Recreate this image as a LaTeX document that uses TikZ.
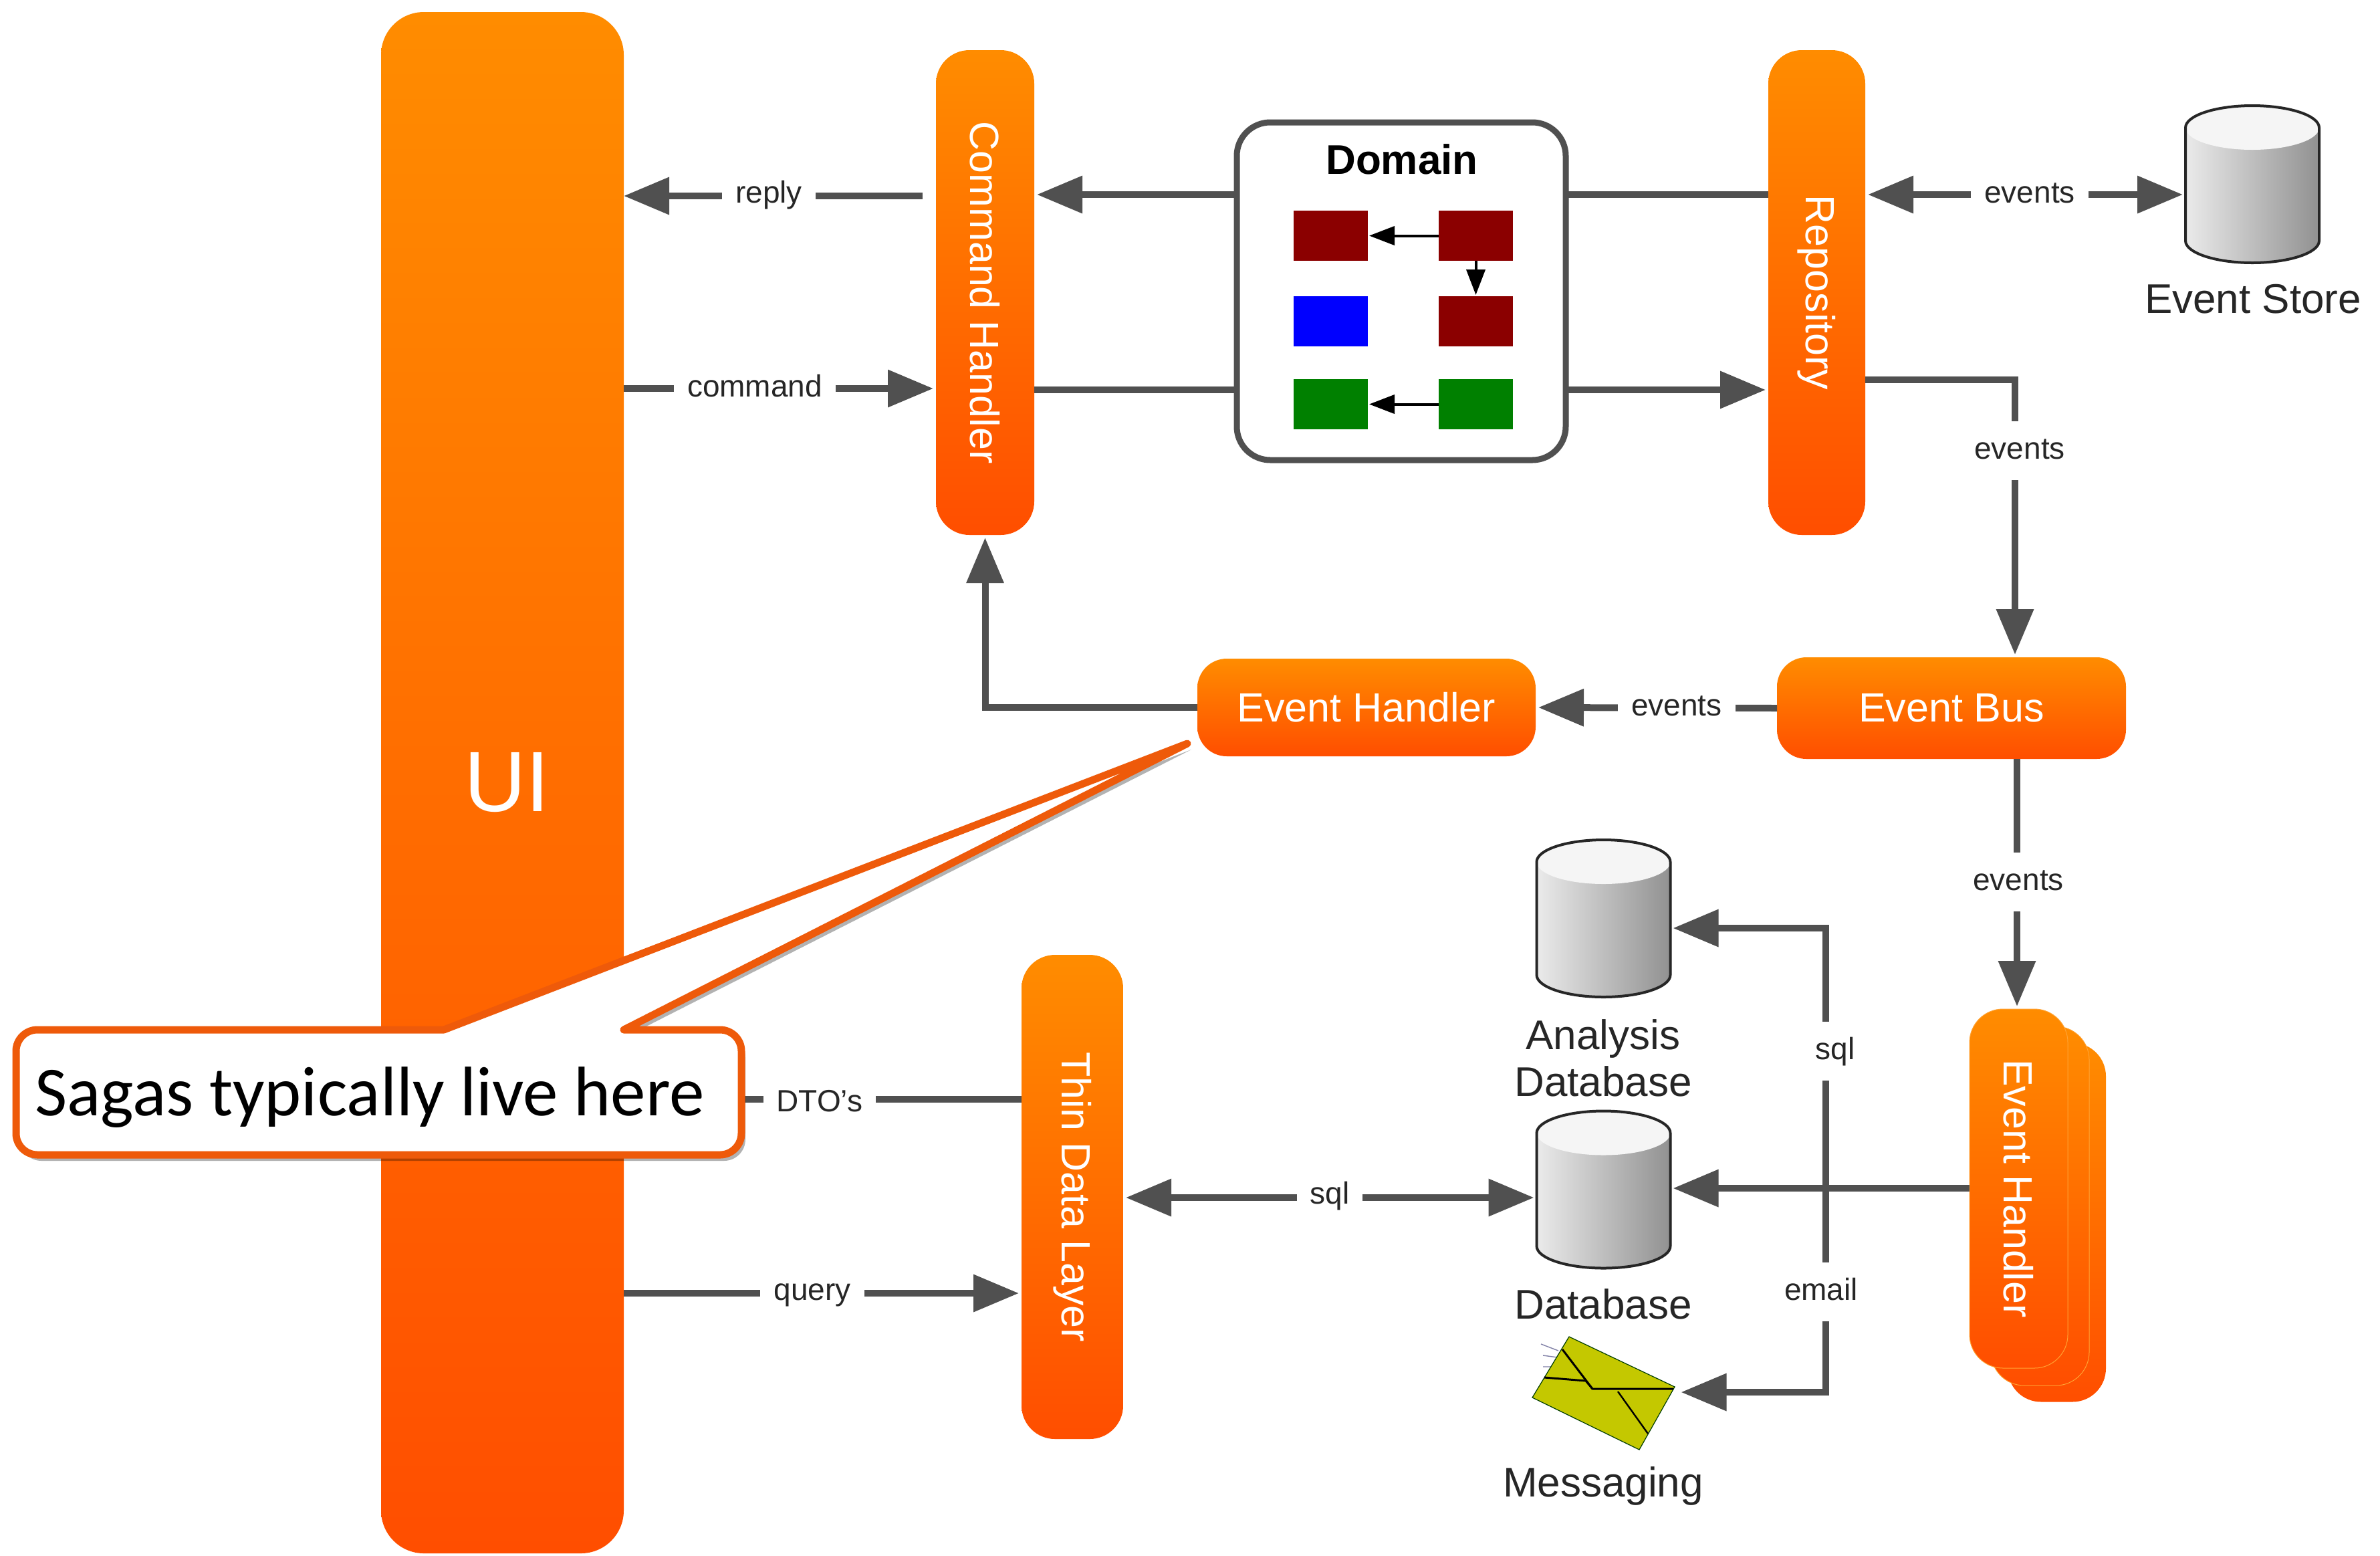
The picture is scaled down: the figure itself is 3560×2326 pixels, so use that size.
\documentclass[tikz,border=0pt]{standalone}
\usepackage{graphicx}
\usepackage{fontspec}
\setmainfont{Liberation Sans}
\newfontfamily\calloutfont{Carlito}
\usetikzlibrary{arrows.meta}
\definecolor{ctop}{HTML}{FF8C00}
\definecolor{cbot}{HTML}{FF4E00}
\definecolor{conn}{HTML}{505050}
\definecolor{ink}{HTML}{262626}
\definecolor{calloutline}{HTML}{EE5A0A}
\newcommand{\cylinderdb}[3]{%
  \begin{scope}[shift={(#2,#3)}]
    \node[inner sep=0pt,outer sep=0pt,minimum width=100pt,minimum height=117.5pt] (#1) at (0,0) {};
    \shade[left color=white!92!black,right color=black!43!white]
      (-100,-84.5) .. controls (-100,-102.7) and (-55,-117.5) .. (0,-117.5)
      .. controls (55,-117.5) and (100,-102.7) .. (100,-84.5)
      -- (100,84.5) .. controls (100,102.7) and (55,117.5) .. (0,117.5)
      .. controls (-55,117.5) and (-100,102.7) .. (-100,84.5) -- cycle;
    \fill[white!96!black]
      (-100,-84.5) .. controls (-100,-102.7) and (-55,-117.5) .. (0,-117.5)
      .. controls (55,-117.5) and (100,-102.7) .. (100,-84.5)
      .. controls (100,-66.3) and (55,-51.5) .. (0,-51.5)
      .. controls (-55,-51.5) and (-100,-66.3) .. (-100,-84.5) -- cycle;
    \draw[line width=2pt,ink]
      (-100,-84.5) .. controls (-100,-102.7) and (-55,-117.5) .. (0,-117.5)
      .. controls (55,-117.5) and (100,-102.7) .. (100,-84.5)
      -- (100,84.5) .. controls (100,102.7) and (55,117.5) .. (0,117.5)
      .. controls (-55,117.5) and (-100,102.7) .. (-100,84.5) -- cycle;
  \end{scope}}
\tikzset{
  bar/.style={inner sep=0pt,outer sep=0pt,top color=ctop,bottom color=cbot,text=white,
    font=\fontsize{30.5}{36}\selectfont},
  sq/.style={inner sep=0pt,outer sep=0pt,minimum width=55.5pt,minimum height=37.5pt},
  flow/.style={conn,line width=5pt,shorten >=2pt,-{Triangle[length=34pt,width=27pt]}},
  flowboth/.style={conn,line width=5pt,shorten >=2pt,shorten <=2pt,{Triangle[length=34pt,width=27pt]}-{Triangle[length=34pt,width=27pt]}},
  plainline/.style={conn,line width=5pt},
  small/.style={black,line width=2pt,shorten >=1pt,-{Triangle[length=19pt,width=14pt]}},
  lbl/.style={fill=white,inner xsep=10pt,inner ysep=16pt,text height=12pt,text depth=0pt,text=ink,font=\fontsize{23}{28}\selectfont},
  captext/.style={text=ink,inner sep=0pt,font=\fontsize{31}{35}\selectfont,align=center},
}
\begin{document}
\begin{tikzpicture}[x=0.5pt,y=-0.5pt]
\fill[white] (0,0) rectangle (3560,2326);
\useasboundingbox (0,0) rectangle (3560,2326);
% main bars
\node[bar,rounded corners=32pt,minimum width=181.5pt,minimum height=1152.5pt,font=\fontsize{64}{70}\selectfont] (ui) at (751.5,1170.5) {\hspace*{7pt}UI};
\node[bar,rounded corners=25pt,minimum width=73.5pt,minimum height=362.5pt] (cmd) at (1473.5,437.5) {\rotatebox{-90}{Command Handler}};
\node[bar,rounded corners=25pt,minimum width=72.5pt,minimum height=362.5pt] (repo) at (2717.5,437.5) {\rotatebox{-90}{Repository}};
\node[bar,rounded corners=22pt,minimum width=253pt,minimum height=73pt] (eh) at (2044,1058) {Event Handler};
\node[bar,rounded corners=22pt,minimum width=261pt,minimum height=76pt] (bus) at (2919,1059) {Event Bus};
\node[bar,rounded corners=25pt,minimum width=76pt,minimum height=362pt] (tdl) at (1604,1790) {\rotatebox{-90}{Thin Data Layer}};
% stacked event handler
\node[bar,rounded corners=25pt,minimum width=73.5pt,minimum height=268.5pt] (ehc) at (3076.5,1828) {};
\node[bar,rounded corners=25pt,minimum width=73.5pt,minimum height=268.5pt,draw=ctop!80!white,line width=.5pt] (ehb) at (3051.5,1803.5) {};
\node[bar,rounded corners=25pt,minimum width=73.5pt,minimum height=268.5pt,draw=ctop!80!white,line width=.5pt] (eha) at (3019.5,1777.5) {\rotatebox{-90}{Event Handler}};
% domain
\node[draw=conn,fill=white,line width=4.5pt,rounded corners=25pt,inner sep=0pt,outer sep=0pt,minimum width=246pt,minimum height=252.5pt] (dom) at (2096,435.5) {};
\node[inner sep=0pt,font=\bfseries\fontsize{31}{36}\selectfont] (domt) at (2097,238) {Domain};
\node[sq,fill={rgb,255:red,139;green,0;blue,0}] (s1) at (1990.5,352.5) {};
\node[sq,fill={rgb,255:red,139;green,0;blue,0}] (s2) at (2207.5,352.5) {};
\node[sq,fill={rgb,255:red,0;green,0;blue,255}] (s3) at (1990.5,480.5) {};
\node[sq,fill={rgb,255:red,139;green,0;blue,0}] (s4) at (2207.5,480.5) {};
\node[sq,fill={rgb,255:red,0;green,128;blue,0}] (s5) at (1990.5,604.5) {};
\node[sq,fill={rgb,255:red,0;green,128;blue,0}] (s6) at (2207.5,604.5) {};
\draw[small] (s2) -- (s1);
\draw[small] (s2) -- (s4);
\draw[small] (s6) -- (s5);
% stores
\cylinderdb{es}{3369}{275.5}
\cylinderdb{adb}{2398.5}{1373.5}
\cylinderdb{db}{2398.5}{1779}
\node[captext] (est) at (3370,447) {Event Store};
\node[captext] (adbt) at (2398,1582) {Analysis\\Database};
\node[captext] (dbt) at (2398,1950) {Database};
\node[captext] (msgt) at (2398,2222) {Messaging};
% envelope
\node[inner sep=0pt,outer sep=0pt,minimum width=112.5pt,minimum height=80pt] (msg) at (2398,2084) {};
\draw[black!70!blue!50!white,line width=.7pt] (2305,2010) -- (2331,2020) (2308,2027) -- (2330,2030) (2308,2044) -- (2324,2044);
\path[fill={rgb,255:red,196;green,200;blue,0},draw=black!60!green!60!black,line width=.6pt] (2347,1999) -- (2505,2074) -- (2452,2168) -- (2292,2090) -- cycle;
\draw[black,line width=1.5pt,line join=round] (2337,2018) -- (2382,2077) -- (2503,2077);
\draw[black,line width=1.5pt,line join=round] (2310,2060) -- (2372,2065) -- (2382,2077);
\draw[black,line width=1.2pt] (2420,2081) -- (2465,2144);
% connectors
\coordinate (junc) at (2731,1777);
\draw[flow,shorten <=10pt,shorten >=0pt] (cmd.west |- 0,293) -- (ui.east |- 0,293);
\draw[flow] (ui.east |- 0,581) -- (cmd.west |- 0,581);
\draw[flow] (dom.west |- 0,291) -- (cmd.east |- 0,291);
\draw[plainline] (cmd.east |- 0,583) -- (dom.west |- 0,583);
\draw[plainline] (dom.east |- 0,291) -- (repo.west |- 0,291);
\draw[flow] (dom.east |- 0,583) -- (repo.west |- 0,583);
\draw[flowboth] (repo.east |- 0,291) -- (es.west |- 0,291);
\draw[flow] (repo.east |- 0,568) -- (3014,568) -- (bus.north -| 3014,0);
\draw[flow] (bus.west) -- (eh.east);
\draw[flow] (eh.west) -| (cmd.south);
\draw[flow] (bus.south -| 3017,0) -- (eha.north -| 3017,0);
\draw[flow] (eha.west |- junc) -- (db.east |- junc);
\draw[flow] (junc) -- (2731,1388) -- (adb.east |- 0,1388);
\draw[flow] (junc) -- (2731,2082) -- (msg.east |- 0,2082);
\draw[flowboth] (tdl.east |- 0,1791) -- (db.west |- 0,1791);
\draw[plainline] (tdl.west |- 0,1644) -- (ui.east |- 0,1644);
\draw[flow] (ui.east |- 0,1934) -- (tdl.west |- 0,1934);
% connector labels
\node[lbl] (lreply) at (1150,291) {reply};
\node[lbl] (lcmd) at (1129,581) {command};
\node[lbl] (lev1) at (3036,291) {events};
\node[lbl] (lev2) at (3021,674) {events};
\node[lbl] (lev3) at (2508,1058) {events};
\node[lbl] (lev4) at (3019,1319) {events};
\node[lbl] (lsql1) at (2745,1572) {sql};
\node[lbl] (lmail) at (2724,1932) {email};
\node[lbl] (lsql2) at (1989,1788) {sql};
\node[lbl] (ldto) at (1226,1650) {DTO’s};
\node[lbl] (lquery) at (1215,1932) {query};
% callout
\fill[black,opacity=.3,line join=round,shift={(6,9)}]
  (933,1540) [rounded corners=16pt] -- (1109,1540) -- (1109,1727) -- (24,1727) -- (24,1540) [sharp corners] -- (664,1540) -- (1776,1112) -- cycle;
\draw[draw=calloutline,fill=white,line width=5.5pt,line join=round]
  (933,1540) [rounded corners=16pt] -- (1109,1540) -- (1109,1727) -- (24,1727) -- (24,1540) [sharp corners] -- (664,1540) -- (1776,1112) -- cycle;
\node[inner sep=0pt,text=black,font=\calloutfont\fontsize{52.5}{60}\selectfont] (saga) at (553,1641) {Sagas typically live here};
\end{tikzpicture}
\end{document}
